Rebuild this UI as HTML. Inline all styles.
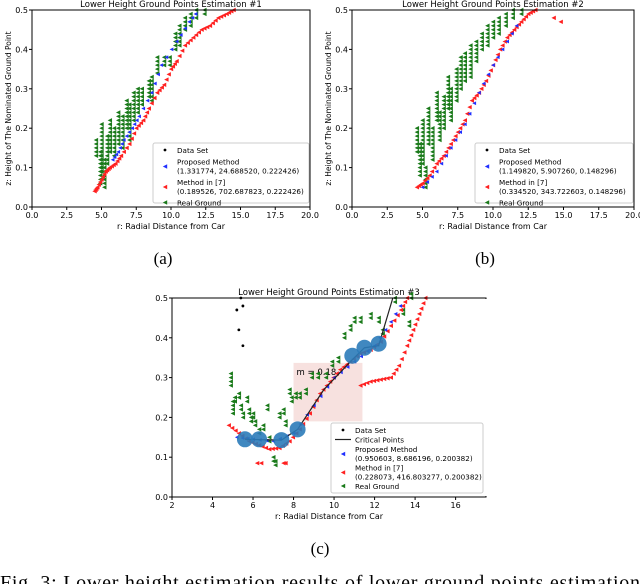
<!DOCTYPE html>
<html><head><meta charset="utf-8"><style>
body{margin:0;background:#fff;width:640px;height:584px;overflow:hidden;font-family:"DejaVu Sans","Liberation Sans",sans-serif}
svg{position:absolute;left:0;top:0}
</style></head><body>
<svg id="fig" width="640" height="584"></svg>
<script>
// ---- data (a)
const aGreen=[[4.6,0.13,0.17],[4.9,0.06,0.14],[5.0,0.09,0.21],[5.2,0.05,0.12],[5.4,0.11,0.18],[5.6,0.14,0.22],[5.9,0.13,0.2],[6.2,0.16,0.24],[6.5,0.15,0.23],[6.8,0.2,0.27],[7.0,0.17,0.26],[7.3,0.22,0.29],[7.6,0.24,0.3],[7.9,0.26,0.3],[8.4,0.28,0.32],[8.6,0.27,0.33],[9.0,0.34,0.38],[9.5,0.36,0.38],[9.9,0.36,0.38],[10.3,0.4,0.44],[10.6,0.41,0.46],[11.0,0.45,0.48],[11.4,0.46,0.49],[11.8,0.48,0.5],[12.4,0.49,0.5]];
const aRed=[[4.5,0.04],[4.7,0.05],[5.0,0.07],[5.3,0.09],[5.6,0.1],[6.0,0.11],[6.4,0.13],[7.0,0.16],[7.5,0.2],[8.0,0.22],[8.4,0.25],[9.0,0.29],[9.5,0.31],[10.0,0.35],[10.4,0.37],[11.0,0.41],[11.6,0.43],[12.2,0.45],[12.8,0.46],[13.4,0.48],[14.0,0.49],[14.5,0.5]];
const aBlue=[[5.8,0.12],[6.2,0.14],[6.6,0.17],[7.2,0.2],[7.7,0.23],[8.6,0.29],[9.3,0.36],[10.4,0.42],[11.3,0.47],[12.0,0.5]];
// ---- data (b)
const bGreen=[[4.6,0.14,0.2],[4.8,0.08,0.16],[5.0,0.11,0.22],[5.2,0.05,0.1],[5.4,0.16,0.25],[5.7,0.12,0.2],[6.0,0.22,0.29],[6.2,0.17,0.24],[6.5,0.2,0.28],[6.8,0.25,0.33],[7.0,0.22,0.3],[7.4,0.27,0.35],[7.7,0.3,0.38],[8.0,0.32,0.39],[8.4,0.33,0.41],[8.8,0.37,0.42],[9.2,0.4,0.44],[9.6,0.41,0.46],[10.0,0.43,0.47],[10.4,0.44,0.48],[10.9,0.46,0.49],[11.4,0.48,0.5],[12.0,0.49,0.5]];
const bRed=[[4.6,0.05],[5,0.06],[5.5,0.08],[6,0.11],[6.5,0.13],[7,0.16],[7.5,0.19],[8,0.22],[8.5,0.27],[9,0.29],[9.5,0.32],[10,0.36],[10.5,0.4],[11,0.43],[11.5,0.45],[12,0.47],[12.5,0.49],[13,0.5]];
const bRedIso=[[14.3,0.48],[14.8,0.47]];
const bBlue=[[5,0.05],[6,0.09],[7,0.15],[8,0.21],[9,0.29],[10,0.36],[11,0.42],[12,0.48]];
// ---- data (c)
const cGreen=[[4.9,0.3],[4.9,0.28],[5.0,0.23],[5.0,0.21],[5.1,0.24],[5.3,0.25],[5.4,0.22],[5.5,0.2],[5.7,0.24],[5.8,0.21],[5.9,0.19],[6.0,0.2],[6.1,0.18],[6.3,0.16],[6.5,0.17],[6.7,0.22],[6.8,0.14],[7.0,0.09],[7.1,0.08],[7.3,0.2],[7.5,0.21],[7.6,0.18],[7.8,0.26],[7.9,0.24],[8.1,0.25],[8.3,0.25],[8.6,0.26],[8.9,0.3],[9.2,0.3],[9.6,0.3],[9.9,0.33],[10.2,0.34],[10.5,0.4],[10.8,0.42],[11.0,0.44],[11.3,0.44],[11.8,0.45],[12.2,0.44],[12.4,0.41],[13.0,0.49],[13.4,0.46],[13.7,0.43],[13.8,0.5]];
const cBlack=[[5.2,0.47],[5.3,0.42],[5.4,0.5],[5.5,0.38],[5.5,0.48]];
const cRed=[[4.8,0.18],[5.3,0.16],[5.8,0.14],[6.3,0.13],[6.8,0.12],[7.3,0.123],[7.8,0.14],[8.3,0.17],[8.8,0.21],[9.3,0.26],[9.8,0.29],[10.3,0.32],[10.8,0.34],[11.3,0.36],[11.8,0.37],[12.3,0.39],[12.8,0.43],[13.3,0.47],[13.6,0.5]];
const cRed2=[[11.3,0.28],[11.8,0.29],[12.3,0.295],[12.8,0.3],[13.2,0.33],[13.6,0.38],[13.9,0.42],[14.2,0.46],[14.5,0.5]];
const cRedIso=[[6.2,0.085],[6.4,0.085],[7.5,0.085],[7.6,0.085]];
const cBlue=[[5.2,0.15],[6,0.145],[7,0.14],[8,0.16],[9,0.23],[10,0.3],[11,0.34],[12,0.38],[12.8,0.44],[13.5,0.5]];
const cCrit=[[5.6,0.145],[6.3,0.145],[7.4,0.143],[8.2,0.17],[10.9,0.355],[11.5,0.375],[12.2,0.385]];
const cLine=[[5.6,0.145],[7.4,0.143],[8.2,0.17],[9.5,0.27],[10.9,0.345],[11.5,0.375],[12.2,0.38],[12.9,0.5]];
const xTicksAB=[0,2.5,5,7.5,10,12.5,15,17.5,20];
const xLabelsAB=["0.0","2.5","5.0","7.5","10.0","12.5","15.0","17.5","20.0"];
const xTicksC=[2,4,6,8,10,12,14,16];
const yTicks=[0,0.1,0.2,0.3,0.4,0.5];
const yLabels=["0.0","0.1","0.2","0.3","0.4","0.5"];

const NS="http://www.w3.org/2000/svg";
const svg=document.getElementById('fig');
function mk(tag,attrs,parent,text){const e=document.createElementNS(NS,tag);for(const k in attrs)e.setAttribute(k,attrs[k]);if(text!==undefined)e.textContent=text;(parent||svg).appendChild(e);return e;}
function tri(g,x,y,c,s){return mk('polygon',{points:`${x-s},${y} ${x+s},${y-s} ${x+s},${y+s}`,fill:c},g);}

function chart(o){
  const g=mk('g',{});
  
  
  const X=v=>o.l+(v-o.x0)/(o.x1-o.x0)*(o.r-o.l);
  const Y=v=>o.b-(v/0.5)*(o.b-o.t);
  const tt=mk('text',{x:(o.l+o.r)/2,y:o.t-3,'text-anchor':'middle','font-size':8.5},g,o.title);
  
  if(o.shade){const r=mk('rect',{x:X(o.shade[0]),y:Y(o.shade[3]),width:X(o.shade[1])-X(o.shade[0]),height:Y(o.shade[2])-Y(o.shade[3]),fill:'#f7e1df'},g);
    
    mk('text',{x:X(o.shade[0])+3,y:Y(o.shade[3])+12,'font-size':8.5},g,'m = 0.18');}
  (o.green||[]).forEach(d=>{for(let v=d[1];v<=d[2]+1e-9;v+=0.01){const m=tri(g,X(d[0]),Y(v),'#1a7a1a',2.2);}});
  (o.greenPts||[]).forEach(d=>{const m=tri(g,X(d[0]),Y(d[1]),'#1a7a1a',2.2);
    const m2=tri(g,X(d[0]),Y(d[1])-4,'#1a7a1a',2.2);});
  (o.black||[]).forEach(d=>{const c=mk('circle',{cx:X(d[0]),cy:Y(d[1]),r:1.4,fill:'#000'},g);});
  (o.reds||[]).forEach(ser=>ser.forEach((d,i)=>{const n=ser[i+1];const steps=(n&&o.link)?3:1;for(let k=0;k<steps;k++){const t=k/steps;const xx=n?d[0]+(n[0]-d[0])*t:d[0],yy=n?d[1]+(n[1]-d[1])*t:d[1];const m=tri(g,X(xx),Y(yy),'#ff2020',2.2);}}));
  (o.isoRed||[]).forEach(d=>{const m=tri(g,X(d[0]),Y(d[1]),'#ff2020',2.2);});
  (o.blue||[]).forEach((d,i)=>{if(i<o.blue.length-1){const n=o.blue[i+1];for(let k=0;k<3;k++){const t=k/3;const m=tri(g,X(d[0]+(n[0]-d[0])*t),Y(d[1]+(n[1]-d[1])*t),'#2030ff',1.9);}}});
  if(o.line){const p=mk('polyline',{points:o.line.map(d=>X(d[0])+','+Y(d[1])).join(' '),fill:'none',stroke:'#222','stroke-width':1.2},g);}
  (o.crit||[]).forEach(d=>{const c=mk('circle',{cx:X(d[0]),cy:Y(d[1]),r:8,fill:'#2b7bb9','fill-opacity':0.9},g);});
  const ax=mk('rect',{x:o.l,y:o.t,width:o.r-o.l,height:o.b-o.t,fill:'none',stroke:'#000','stroke-width':1},g);
  
  if(o.openRight){mk('line',{x1:o.r,y1:o.t+1,x2:o.r,y2:o.b-1,stroke:'#fff','stroke-width':2},g);}
  o.xt.forEach((v,i)=>{mk('line',{x1:X(v),x2:X(v),y1:o.b,y2:o.b+3,stroke:'#000'},g);
    const t=mk('text',{x:X(v),y:o.b+11,'text-anchor':'middle','font-size':8},g,o.xl[i]);});
  yTicks.forEach((v,i)=>{mk('line',{x1:o.l-3,x2:o.l,y1:Y(v),y2:Y(v),stroke:'#000'},g);
    const t=mk('text',{x:o.l-4,y:Y(v)+3,'text-anchor':'end','font-size':8},g,yLabels[i]);});
  const xl=mk('text',{x:(o.l+o.r)/2,y:o.b+22,'text-anchor':'middle','font-size':8},g,'r: Radial Distance from Car');
  
  if(o.ylab){const yl=mk('text',{x:0,y:0,'text-anchor':'middle','font-size':7.5,transform:`translate(${o.l-21},${(o.t+o.b)/2}) rotate(-90)`},g,'z: Height of The Nominated Ground Point');
    }
  const L=o.leg;const lg=mk('g',{},g);
  mk('rect',{x:L[0],y:L[1],width:L[2],height:L[3],fill:'#fff',stroke:'#ccc',rx:2},lg);
  let yy=L[1]+10;const fx=L[0]+24;
  o.entries.forEach(e=>{
    const sx=L[0]+12;
    if(e.k==='dot')mk('circle',{cx:sx,cy:yy-3,r:1.4,fill:'#000'},lg);
    else if(e.k==='line')mk('line',{x1:sx-8,x2:sx+8,y1:yy-3,y2:yy-3,stroke:'#222','stroke-width':1.2},lg);
    else tri(lg,sx,yy+(e.t.length>1?2:-3),e.c,2.2);
    e.t.forEach((s,j)=>{const t=mk('text',{x:fx,y:yy+j*9,'font-size':7.2},lg,s);});
    yy+=e.t.length*9+(o.legGap||2.5);
  });
}
chart({name:'chart-a',l:32,r:310,t:10,b:207,x0:0,x1:20,xt:xTicksAB,xl:xLabelsAB,ylab:true,title:'Lower Height Ground Points Estimation #1',
  green:aGreen,reds:[aRed],link:true,blue:aBlue,leg:[153,143,156,60],
  entries:[{k:'dot',t:['Data Set']},{k:'m',c:'#2030ff',t:['Proposed Method','(1.331774, 24.688520, 0.222426)']},{k:'m',c:'#ff2020',t:['Method in [7]','(0.189526, 702.687823, 0.222426)']},{k:'m',c:'#1a7a1a',t:['Real Ground']}]});
chart({name:'chart-b',l:352,r:634,t:10,b:207,x0:0,x1:20,xt:xTicksAB,xl:xLabelsAB,ylab:true,title:'Lower Height Ground Points Estimation #2',
  green:bGreen,reds:[bRed],link:true,isoRed:bRedIso,blue:bBlue,leg:[475,143,158,60],
  entries:[{k:'dot',t:['Data Set']},{k:'m',c:'#2030ff',t:['Proposed Method','(1.149820, 5.907260, 0.148296)']},{k:'m',c:'#ff2020',t:['Method in [7]','(0.334520, 343.722603, 0.148296)']},{k:'m',c:'#1a7a1a',t:['Real Ground']}]});
chart({name:'chart-c',l:172,r:486,t:298,b:497,x0:2,x1:17.5,xt:xTicksC,xl:xTicksC.map(String),ylab:false,openRight:true,title:'Lower Height Ground Points Estimation #3',
  shade:[8,11.4,0.19,0.337],greenPts:cGreen,black:cBlack,reds:[cRed,cRed2],link:true,isoRed:cRedIso,blue:cBlue,line:cLine,crit:cCrit,leg:[331,423,152,70],legGap:0.5,
  entries:[{k:'dot',t:['Data Set']},{k:'line',t:['Critical Points']},{k:'m',c:'#2030ff',t:['Proposed Method','(0.950603, 8.686196, 0.200382)']},{k:'m',c:'#ff2020',t:['Method in [7]','(0.228073, 416.803277, 0.200382)']},{k:'m',c:'#1a7a1a',t:['Real Ground']}]});
[['(a)',163,264],['(b)',485,264],['(c)',320,554]].forEach(c=>{const t=mk('text',{x:c[1],y:c[2],'text-anchor':'middle','font-size':17,'font-family':'Liberation Serif, serif'},svg,c[0]);
  });
const cap=mk('text',{x:0,y:589,'font-size':20,'font-family':'Liberation Serif, serif','textLength':640},svg,'Fig. 3:  Lower height estimation results of lower ground points estimation');

</script>
</body></html>
